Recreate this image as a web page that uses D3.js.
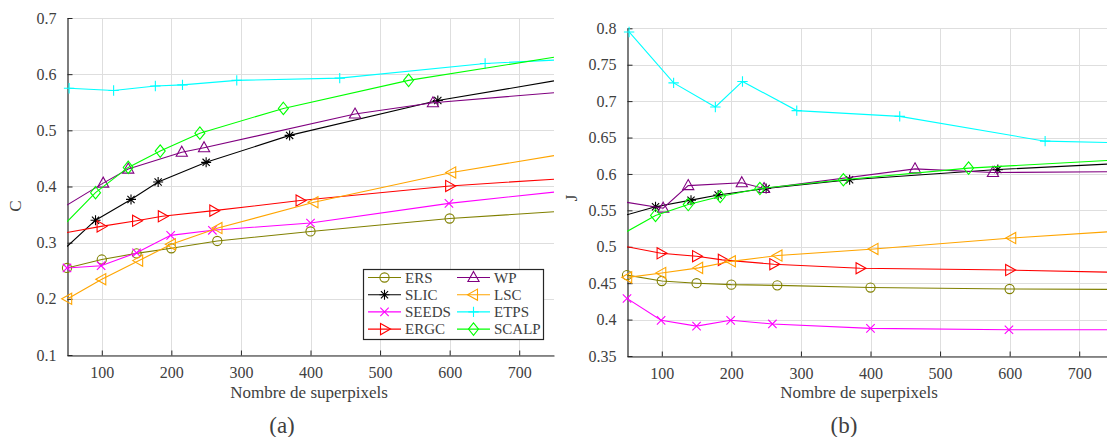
<!DOCTYPE html>
<html><head><meta charset="utf-8">
<script src="https://cdn.jsdelivr.net/npm/d3@7"></script>
<style>
body{margin:0;background:#fff}
svg{display:block}
text{font-family:"Liberation Serif","DejaVu Serif",serif;fill:#404040}
</style>
</head><body>
<svg id="chart" width="1107" height="437"></svg>
<script>
// ---------------- DATA ----------------
const seriesNames = ["ERS","SLIC","SEEDS","ERGC","WP","LSC","ETPS","SCALP"];

// superpixel counts of the marked points of each method
const ersN   = [50, 100, 150, 200, 266, 400, 600];
const slicN  = [91, 142, 181, 250, 370, 583];
const seedsN = [50, 99, 150, 199, 259, 400, 599];
const ergcN  = [99, 150, 187, 261, 385, 600];
const wpN    = [102, 138, 215, 247, 464, 576];
const lscN   = [51, 100, 153, 200, 267, 405, 603];
const etpsN  = [53, 117, 177, 216, 294, 442, 651];
const scalpN = [91, 138, 184, 241, 361, 541];

// (a) C values
const ersC   = [0.255, 0.270, 0.281, 0.290, 0.303, 0.320, 0.343];
const slicC  = [0.340, 0.377, 0.408, 0.443, 0.491, 0.553];
const seedsC = [0.255, 0.259, 0.282, 0.313, 0.322, 0.335, 0.370];
const ergcC  = [0.329, 0.339, 0.347, 0.357, 0.375, 0.401];
const wpC    = [0.406, 0.431, 0.461, 0.469, 0.529, 0.549];
const lscC   = [0.200, 0.235, 0.268, 0.297, 0.326, 0.372, 0.425];
const etpsC  = [0.575, 0.571, 0.579, 0.581, 0.589, 0.593, 0.619];
const scalpC = [0.389, 0.434, 0.463, 0.495, 0.539, 0.589];
// values where curves cross the left (50) / right (750) borders of (a)
const edgeLeftC  = [null, 0.293, null, 0.318, 0.367, null, null, 0.337];
const edgeRightC = [0.355, 0.588, 0.390, 0.413, 0.567, 0.455, 0.625, 0.630];

// (b) J values
const ersJ   = [0.461, 0.453, 0.450, 0.448, 0.447, 0.444, 0.442];
const slicJ  = [0.555, 0.564, 0.571, 0.580, 0.592, 0.606];
const seedsJ = [0.429, 0.399, 0.391, 0.399, 0.394, 0.388, 0.386];
const ergcJ  = [0.491, 0.487, 0.482, 0.476, 0.4705, 0.468];
const wpJ    = [0.553, 0.584, 0.588, 0.580, 0.607, 0.602];
const lscJ   = [0.458, 0.464, 0.471, 0.480, 0.488, 0.497, 0.512];
const etpsJ  = [0.795, 0.725, 0.692, 0.727, 0.687, 0.679, 0.645];
const scalpJ = [0.543, 0.558, 0.569, 0.580, 0.592, 0.608];
const edgeLeftJ  = [null, 0.544, null, 0.500, 0.561, null, null, 0.521];
const edgeRightJ = [0.4415, 0.614, 0.386, 0.465, 0.603, 0.521, 0.643, 0.619];

const xDomain = [50, 750];
const xTicks = [100, 200, 300, 400, 500, 600, 700];
const xTickLabels = ["100","200","300","400","500","600","700"];
const cDomain = [0.1, 0.7];
const cTicks = [0.1, 0.2, 0.3, 0.4, 0.5, 0.6, 0.7];
const cTickLabels = ["0.1","0.2","0.3","0.4","0.5","0.6","0.7"];
const jDomain = [0.35, 0.8];
const jTicks = [0.35, 0.4, 0.45, 0.5, 0.55, 0.6, 0.65, 0.7, 0.75, 0.8];
const jTickLabels = ["0.35","0.4","0.45","0.5","0.55","0.6","0.65","0.7","0.75","0.8"];
const xLabel = "Nombre de superpixels";

// ---------------- STYLE ----------------
const colors = ["#808000","#000000","#ff00ff","#ff0000","#800080","#ffa500","#00ffff","#00ff00"];
const markers = ["o","*","x",">","^","<","+","d"];

const allN = [ersN, slicN, seedsN, ergcN, wpN, lscN, etpsN, scalpN];
const allC = [ersC, slicC, seedsC, ergcC, wpC, lscC, etpsC, scalpC];
const allJ = [ersJ, slicJ, seedsJ, ergcJ, wpJ, lscJ, etpsJ, scalpJ];

const svg = d3.select("#chart");

function markerPath(type){
  const p = d3.path();
  switch(type){
    case "o": p.moveTo(4.6,0); p.arc(0,0,4.6,0,2*Math.PI); break;
    case "*": {
      const s=5, d=3.6;
      p.moveTo(-s,0);p.lineTo(s,0);p.moveTo(0,-s);p.lineTo(0,s);
      p.moveTo(-d,-d);p.lineTo(d,d);p.moveTo(-d,d);p.lineTo(d,-d); break;}
    case "x": {const d=4.2; p.moveTo(-d,-d);p.lineTo(d,d);p.moveTo(-d,d);p.lineTo(d,-d); break;}
    case "+": {const s=5.2; p.moveTo(-s,0);p.lineTo(s,0);p.moveTo(0,-s);p.lineTo(0,s); break;}
    case "^": p.moveTo(0,-6);p.lineTo(5.6,4);p.lineTo(-5.6,4);p.closePath(); break;
    case ">": p.moveTo(6,0);p.lineTo(-4,5.6);p.lineTo(-4,-5.6);p.closePath(); break;
    case "<": p.moveTo(-6,0);p.lineTo(4,5.6);p.lineTo(4,-5.6);p.closePath(); break;
    case "d": p.moveTo(0,-6.2);p.lineTo(5,0);p.lineTo(0,6.2);p.lineTo(-5,0);p.closePath(); break;
  }
  return p.toString();
}

function drawPanel(cfg){
  const x = d3.scaleLinear().domain(xDomain).range([cfg.left, cfg.right]);
  const y = d3.scaleLinear().domain(cfg.yDomain).range([cfg.bottom, cfg.top]);
  const g = svg.append("g");

  // grid
  g.append("g").selectAll("line").data(xTicks).join("line")
    .attr("x1", d=>Math.round(x(d))+0.5).attr("x2", d=>Math.round(x(d))+0.5)
    .attr("y1", cfg.top).attr("y2", cfg.bottom)
    .attr("stroke", "#dedede").attr("stroke-width", 1);
  g.append("g").selectAll("line").data(cfg.yTicks).join("line")
    .attr("x1", cfg.left).attr("x2", cfg.right)
    .attr("y1", d=>Math.round(y(d))+0.5).attr("y2", d=>Math.round(y(d))+0.5)
    .attr("stroke", "#dedede").attr("stroke-width", 1);

  // axes (MATLAB style, inward ticks)
  const xAxis = d3.axisBottom(x).tickValues(xTicks).tickFormat((d,i)=>xTickLabels[i])
    .tickSizeInner(-5).tickSizeOuter(0).tickPadding(14);
  const ax = g.append("g").attr("transform", `translate(0,${Math.round(cfg.bottom)+0.5})`).call(xAxis);
  const yAxis = d3.axisLeft(y).tickValues(cfg.yTicks).tickFormat((d,i)=>cfg.yTickLabels[i])
    .tickSizeInner(-5).tickSizeOuter(0).tickPadding(11);
  const ay = g.append("g").attr("transform", `translate(${Math.round(cfg.left)+0.5},0)`).call(yAxis);
  [ax, ay].forEach(a=>{
    a.select(".domain").attr("stroke", "#262626").attr("stroke-width", 1.2);
    a.selectAll(".tick line").attr("stroke", "#262626");
    a.selectAll(".tick text").attr("font-size", "16px").attr("fill", "#404040")
      .style("font-family", '"Liberation Serif","DejaVu Serif",serif');
  });
  ax.selectAll(".tick text").attr("dy", "0.5em");

  // clip
  const clipId = "clip" + cfg.id;
  svg.append("clipPath").attr("id", clipId).append("rect")
    .attr("x", cfg.left).attr("y", cfg.top - 40)
    .attr("width", cfg.right - cfg.left).attr("height", cfg.bottom - cfg.top + 40);

  const line = d3.line().x(d=>x(d[0])).y(d=>y(d[1]));
  seriesNames.forEach((name, i)=>{
    const pts = allN[i].map((n,k)=>[n, cfg.values[i][k]]);
    const full = [];
    if (cfg.edgeLeft[i] !== null) full.push([xDomain[0], cfg.edgeLeft[i]]);
    full.push(...pts);
    if (cfg.edgeRight[i] !== null) full.push([xDomain[1], cfg.edgeRight[i]]);
    g.append("path").datum(full).attr("d", line)
      .attr("fill", "none").attr("stroke", colors[i]).attr("stroke-width", 1.1)
      .attr("clip-path", `url(#${clipId})`);
    g.append("g").selectAll("path").data(pts).join("path")
      .attr("transform", d=>`translate(${x(d[0])},${y(d[1])})`)
      .attr("d", markerPath(markers[i]))
      .attr("fill", "none").attr("stroke", colors[i]).attr("stroke-width", 1.1);
  });

  // labels
  g.append("text").attr("x", cfg.xLabelX).attr("y", 398).attr("text-anchor", "middle")
    .attr("font-size", "17px").text(xLabel);
  g.append("text").attr("transform", `translate(${cfg.yLabelX},${cfg.yLabelY}) rotate(-90)`)
    .attr("text-anchor", "middle").attr("font-size", "17px").text(cfg.yLabel);
  g.append("text").attr("x", cfg.capX).attr("y", 433).attr("text-anchor", "middle")
    .attr("font-size", "23px").attr("fill", "#000").text(cfg.caption);
  return {x, y};
}

drawPanel({id:"a", left:67, right:554, top:18, bottom:355, yDomain:cDomain,
  yTicks:cTicks, yTickLabels:cTickLabels, values:allC, edgeLeft:edgeLeftC, edgeRight:edgeRightC,
  xLabelX:309, yLabelX:21, yLabelY:206, yLabel:"C", capX:282, caption:"(a)"});

drawPanel({id:"b", left:627, right:1114, top:28.3, bottom:356, yDomain:jDomain,
  yTicks:jTicks, yTickLabels:jTickLabels, values:allJ, edgeLeft:edgeLeftJ, edgeRight:edgeRightJ,
  xLabelX:859, yLabelX:577, yLabelY:198, yLabel:"J", capX:844, caption:"(b)"});

// legend in panel (a)
const lg = svg.append("g");
lg.append("rect").attr("x", 363.5).attr("y", 269.5).attr("width", 180).attr("height", 70)
  .attr("fill", "#fff").attr("stroke", "#262626").attr("stroke-width", 1.2);
seriesNames.forEach((name, i)=>{
  const col = Math.floor(i / 4), row = i % 4;
  const x0 = col === 0 ? 368 : 457;
  const yy = 277.5 + row * 17.2;
  lg.append("line").attr("x1", x0).attr("x2", x0 + 33).attr("y1", yy).attr("y2", yy)
    .attr("stroke", colors[i]).attr("stroke-width", 1.1);
  lg.append("path").attr("transform", `translate(${x0 + 16.5},${yy})`)
    .attr("d", markerPath(markers[i])).attr("fill", "none")
    .attr("stroke", colors[i]).attr("stroke-width", 1.1);
  lg.append("text").attr("x", x0 + 37).attr("y", yy + 5).attr("font-size", "15px")
    .attr("fill", "#262626").text(name);
});
</script>
</body></html>
